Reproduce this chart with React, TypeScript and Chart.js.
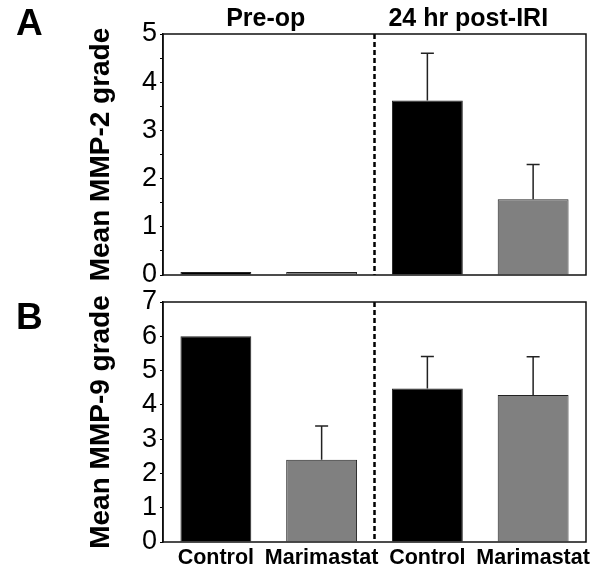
import React, { useEffect, useRef } from "react";
import { Chart, registerables } from "chart.js";

Chart.register(...registerables);

const FONT = "'Liberation Sans', Arial, Helvetica, sans-serif";

// ---- data ----
const categories = ["Control", "Marimastat", "Control", "Marimastat"];
const groupLabels = ["Pre-op", "24 hr post-IRI"];
const barColors = ["#000000", "#808080", "#000000", "#808080"];

const mmp2Means = [0.06, 0.06, 3.62, 1.57];
const mmp2Errors = [0, 0, 0.98, 0.72];
const mmp2Axis = { min: 0, max: 5, step: 0.5 };

const mmp9Means = [6.0, 2.4, 4.48, 4.29];
const mmp9Errors = [0, 0.98, 0.93, 1.11];
const mmp9Axis = { min: 0, max: 7, step: 1 };

const panelPlugin = {
  id: "panelDecor",
  afterDatasetsDraw(chart: any, _args: any, opts: any) {
    const { ctx, chartArea: a, scales } = chart;
    const x = scales.x;
    const y = scales.y;
    const meta = chart.getDatasetMeta(0);
    const values = chart.data.datasets[0].data as number[];
    ctx.save();
    // error bars (upper only)
    ctx.strokeStyle = "#222";
    ctx.lineWidth = 1.5;
    (opts.errors as number[]).forEach((e, i) => {
      if (!e) return;
      const bar = meta.data[i];
      const yBase = y.getPixelForValue(values[i]);
      const yTop = y.getPixelForValue(values[i] + e);
      ctx.beginPath();
      ctx.moveTo(bar.x, yBase);
      ctx.lineTo(bar.x, yTop);
      ctx.moveTo(bar.x - 6.5, yTop);
      ctx.lineTo(bar.x + 6.5, yTop);
      ctx.stroke();
    });
    // dashed divider between groups
    const xd = (x.getPixelForValue(1) + x.getPixelForValue(2)) / 2;
    ctx.strokeStyle = "#000";
    ctx.lineWidth = 2.5;
    ctx.setLineDash([5, 3]);
    ctx.beginPath();
    ctx.moveTo(xd, a.top);
    ctx.lineTo(xd, a.bottom);
    ctx.stroke();
    ctx.setLineDash([]);
    // frame
    ctx.lineWidth = 1.5;
    ctx.strokeStyle = "#111";
    ctx.strokeRect(a.left, a.top, a.right - a.left, a.bottom - a.top);
    // panel letter
    ctx.fillStyle = "#000";
    ctx.font = `bold 37px ${FONT}`;
    ctx.textAlign = "left";
    ctx.textBaseline = "alphabetic";
    ctx.fillText(opts.letter, 16, opts.letterBaseline);
    // group headers
    if (opts.headers) {
      ctx.font = `bold 25px ${FONT}`;
      ctx.textAlign = "center";
      const c1 = (x.getPixelForValue(0) + x.getPixelForValue(1)) / 2;
      const c2 = (x.getPixelForValue(2) + x.getPixelForValue(3)) / 2;
      ctx.fillText(groupLabels[0], c1 - 3, a.top - 8);
      ctx.fillText(groupLabels[1], c2 - 12, a.top - 8);
    }
    ctx.restore();
  },
};

function makeConfig(
  means: number[],
  errors: number[],
  axis: { min: number; max: number; step: number },
  title: string,
  letter: string,
  letterBaseline: number,
  showX: boolean,
  padding: any
): any {
  return {
    type: "bar",
    data: {
      labels: categories,
      datasets: [
        {
          data: means,
          backgroundColor: barColors,
          borderColor: "#222",
          borderWidth: 1,
          barPercentage: 0.67,
          categoryPercentage: 1,
        },
      ],
    },
    options: {
      responsive: false,
      animation: false,
      layout: { padding },
      plugins: {
        legend: { display: false },
        tooltip: { enabled: false },
        title: { display: false },
        panelDecor: { errors, letter, letterBaseline, headers: !showX },
      },
      scales: {
        x: showX
          ? {
              display: true,
              afterFit: (s: any) => {
                s.height = 35;
                s.paddingLeft = 0;
                s.paddingRight = 0;
              },
              grid: { display: false, drawTicks: false },
              border: { display: false },
              ticks: {
                autoSkip: false,
                maxRotation: 0,
                minRotation: 0,
                padding: 3,
                color: "#000",
                font: { family: FONT, size: 21.5, weight: "bold" },
              },
            }
          : { display: false },
        y: {
          min: axis.min,
          max: axis.max,
          afterFit: (s: any) => {
            s.width = 163;
            s.paddingTop = 0;
            s.paddingBottom = 0;
          },
          ticks: {
            stepSize: axis.step,
            autoSkip: false,
            padding: 3,
            color: "#000",
            font: { family: FONT, size: 27 },
            callback: (v: any) => (Number.isInteger(v) ? String(v) : ""),
          },
          grid: {
            drawOnChartArea: false,
            drawTicks: true,
            tickLength: 3,
            color: "#000",
            lineWidth: 1,
          },
          border: { display: true, color: "#000", width: 1.5 },
          title: {
            display: true,
            text: title,
            color: "#000",
            font: { family: FONT, size: 28, weight: "bold" },
            padding: { top: 84, bottom: 0 },
          },
        },
      },
    },
    plugins: [panelPlugin],
  };
}

function Panel(props: { top: number; height: number; config: any }) {
  const ref = useRef<HTMLCanvasElement | null>(null);
  useEffect(() => {
    if (!ref.current) return;
    const chart = new Chart(ref.current, props.config);
    return () => chart.destroy();
  }, []);
  return (
    <canvas
      ref={ref}
      width={600}
      height={props.height}
      style={{
        position: "absolute",
        left: 0,
        top: props.top,
        width: 600,
        height: props.height,
        display: "block",
      }}
    />
  );
}

export default function App() {
  const cfgA = makeConfig(
    mmp2Means,
    mmp2Errors,
    mmp2Axis,
    "Mean MMP-2 grade",
    "A",
    35,
    false,
    { top: 34, right: 14, bottom: 15, left: 0 }
  );
  const cfgB = makeConfig(
    mmp9Means,
    mmp9Errors,
    mmp9Axis,
    "Mean MMP-9 grade",
    "B",
    39,
    true,
    { top: 12, right: 14, bottom: 0, left: 0 }
  );
  return (
    <div
      style={{
        position: "absolute",
        left: 0,
        top: 0,
        width: 600,
        height: 577,
        background: "#fff",
        overflow: "hidden",
      }}
    >
      <Panel top={0} height={290} config={cfgA} />
      <Panel top={290} height={287} config={cfgB} />
    </div>
  );
}
